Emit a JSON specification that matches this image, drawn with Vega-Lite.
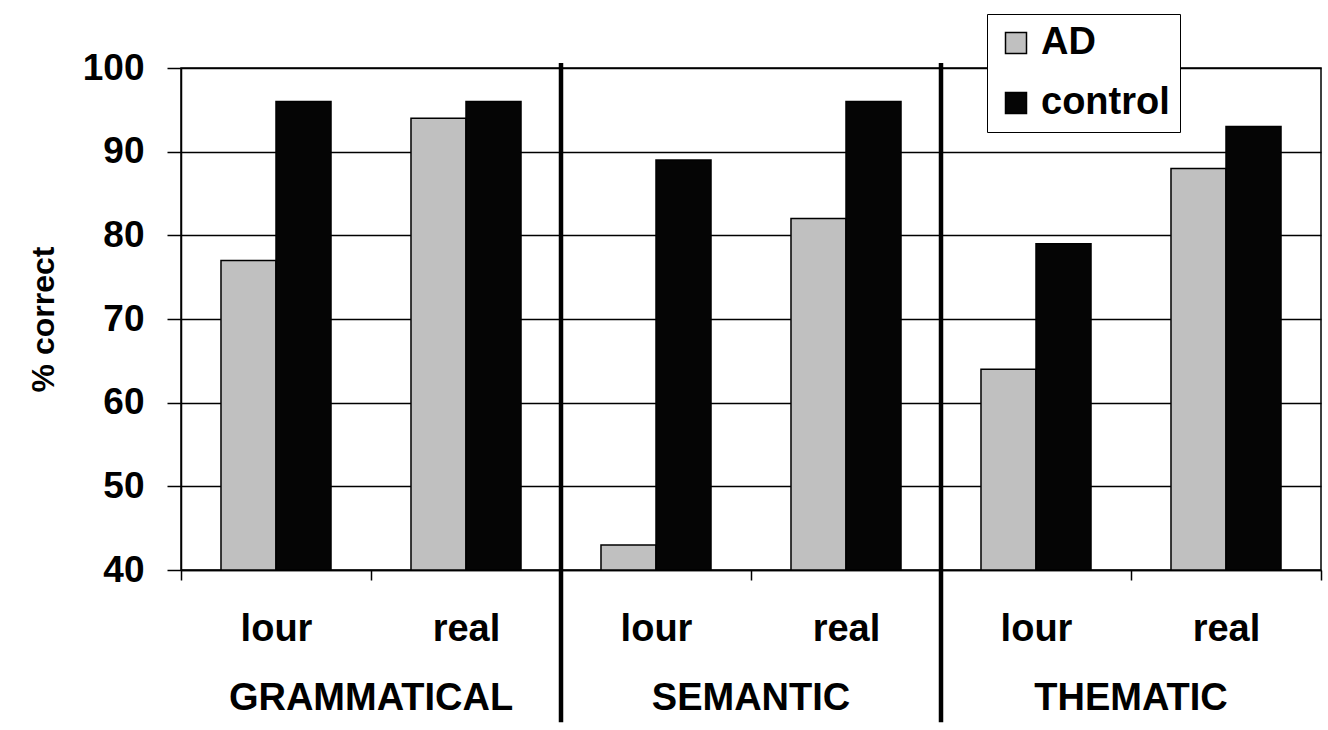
{
  "$schema": "https://vega.github.io/schema/vega-lite/v6.json",
  "padding": {"left": 27, "top": 13, "right": 5, "bottom": 5},
  "background": "white",
  "bounds": "flush",
  "data": {"values": [
    {"group": "GRAMMATICAL", "cond": "lour", "series": "AD", "value": 77},
    {"group": "GRAMMATICAL", "cond": "lour", "series": "control", "value": 96},
    {"group": "GRAMMATICAL", "cond": "real", "series": "AD", "value": 94},
    {"group": "GRAMMATICAL", "cond": "real", "series": "control", "value": 96},
    {"group": "SEMANTIC", "cond": "lour", "series": "AD", "value": 43},
    {"group": "SEMANTIC", "cond": "lour", "series": "control", "value": 89},
    {"group": "SEMANTIC", "cond": "real", "series": "AD", "value": 82},
    {"group": "SEMANTIC", "cond": "real", "series": "control", "value": 96},
    {"group": "THEMATIC", "cond": "lour", "series": "AD", "value": 64},
    {"group": "THEMATIC", "cond": "lour", "series": "control", "value": 79},
    {"group": "THEMATIC", "cond": "real", "series": "AD", "value": 88},
    {"group": "THEMATIC", "cond": "real", "series": "control", "value": 93}
  ]},
  "facet": {
    "column": {
      "field": "group", "type": "nominal",
      "sort": ["GRAMMATICAL", "SEMANTIC", "THEMATIC"],
      "header": {"title": null, "labelOrient": "bottom", "labelFont": "Liberation Sans", "labelFontSize": 38, "labelFontWeight": "bold", "labelColor": "black", "labelPadding": 32}
    }
  },
  "spacing": 0,
  "spec": {
    "width": 380,
    "height": 502,
    "layer": [
      {
        "mark": {"type": "bar", "stroke": "black", "strokeWidth": 1.5},
        "encoding": {
          "x": {
            "field": "cond", "type": "nominal", "sort": ["lour", "real"],
            "scale": {"paddingInner": 0, "paddingOuter": 0},
            "axis": {"title": null, "labelAngle": 0, "tickBand": "extent", "tickSize": 10, "tickColor": "black", "tickWidth": 1.5, "domainColor": "black", "domainWidth": 1.5, "labelFontSize": 38, "labelFontWeight": "bold", "labelColor": "black", "labelPadding": 30, "grid": false}
          },
          "xOffset": {
            "field": "series", "type": "nominal", "sort": ["AD", "control"],
            "scale": {"paddingInner": 0, "paddingOuter": 0.727}
          },
          "y": {
            "field": "value", "type": "quantitative",
            "scale": {"domain": [40, 100], "nice": false, "zero": false},
            "axis": {"title": "% correct", "titleFontSize": 32, "titleFontWeight": "bold", "titleColor": "black", "titlePadding": 22, "values": [40, 50, 60, 70, 80, 90, 100], "grid": true, "gridColor": "black", "gridWidth": 1.5, "gridOpacity": 1, "tickSize": 14, "tickColor": "black", "tickWidth": 1.5, "domainColor": "black", "domainWidth": 1.5, "labelFontSize": 37, "labelFontWeight": "bold", "labelColor": "black", "labelPadding": 23}
          },
          "y2": {"datum": 40},
          "color": {
            "field": "series", "type": "nominal",
            "scale": {"domain": ["AD", "control"], "range": ["#c0c0c0", "#050505"]},
            "legend": {"title": null, "orient": "none", "legendX": 806, "legendY": -54, "direction": "vertical", "symbolType": "square", "symbolSize": 441, "symbolStrokeColor": "black", "symbolStrokeWidth": 1.5, "labelFontSize": 38, "labelFontWeight": "bold", "labelColor": "black", "labelOffset": 6, "padding": 10, "rowPadding": 22, "strokeColor": "black", "fillColor": "white"}
          }
        }
      },
      {
        "transform": [{"filter": "datum.group != 'GRAMMATICAL' && datum.cond == 'lour' && datum.series == 'AD'"}],
        "mark": {"type": "rule", "strokeWidth": 4.5, "color": "black"},
        "encoding": {
          "x": {"field": "cond", "type": "nominal", "bandPosition": 0},
          "y": {"datum": 100.6},
          "y2": {"datum": 21.8}
        }
      }
    ]
  },
  "config": {
    "font": "Liberation Sans",
    "view": {"stroke": "black", "strokeWidth": 1.5}
  }
}
